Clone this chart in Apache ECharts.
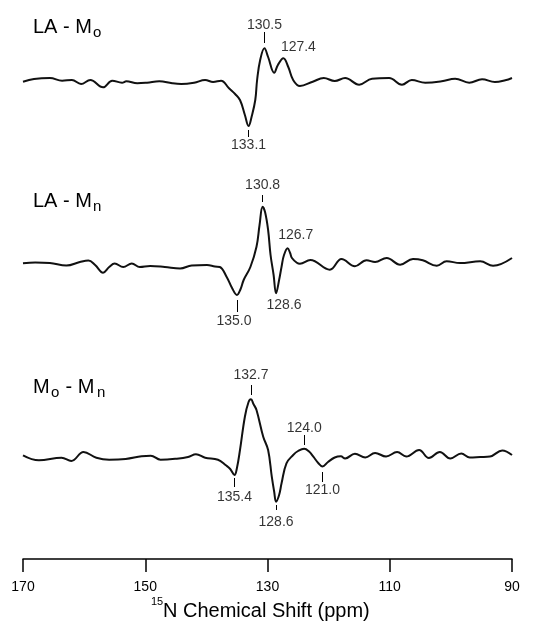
<!DOCTYPE html>
<html>
<head>
<meta charset="utf-8">
<script src="https://cdn.jsdelivr.net/npm/echarts@6/dist/echarts.min.js"></script>
<style>
html, body { margin: 0; padding: 0; background: #fff; }
#chart { width: 545px; height: 635px; }
</style>
</head>
<body>
<div id="chart"></div>
<script>
/* 15N difference spectra (intensity in arbitrary units) */
var laMoPpm = [170.0, 168.2, 165.6, 163.6, 162.0, 160.5, 159.0, 156.9, 155.4, 153.8, 153.1, 151.3, 149.7, 147.7, 145.6, 144.1, 142.0, 140.2, 138.9, 137.6,
    136.3, 135.3, 134.5, 133.7, 133.1, 132.6, 132.0, 131.7, 131.2, 130.5, 129.9, 128.9, 128.3, 127.4, 126.6, 125.8, 124.7,
    122.6, 120.8, 119.0, 117.3, 115.0, 112.9, 110.1, 108.0, 106.4, 104.2, 101.5, 99.3, 97.0, 94.9, 92.8, 91.1, 90.0];
var laMoInt = [0.3, 3, 4, 1.3, 2, -2, 2, -5.3, 1.3, -0.7, 0.7, -1.3, -0.7, 0.7, -1.3, -2, -0.7, 2, 0, 1.3,
    -6.3, -12, -18, -33, -44, -34.7, -18, 2, 22, 33.7, 25, 9.3, 17, 23.7, 15, 2, -4,
    0.3, 4, 1, 4, -2.7, 3.3, 4, -2.7, 2, -0.7, 0.7, 3.3, -0.7, 2.7, 0, 1.7, 4];

var laMnPpm = [170.0, 168.0, 165.6, 162.9, 160.7, 159.3, 158.2, 156.9, 155.9, 155.0, 153.6, 152.2, 150.9, 149.2, 146.8, 144.3, 142.4, 139.9, 138.6, 137.8,
    136.7, 135.8, 135.0, 134.4, 133.9, 132.8, 131.8, 131.3, 130.8, 130.4, 129.9, 129.5, 129.0, 128.6, 128.1, 127.7, 127.3, 126.7, 126.3, 126.0, 125.2,
    124.7, 123.0, 119.8, 117.9, 115.7, 113.8, 112.4, 110.5, 108.3, 106.2, 104.6, 102.3, 100.7, 98.5, 95.2, 93.1, 90.0];
var laMnInt = [-0.3, 0.5, 0, -2.5, 1, 2.5, -2, -9.7, -4, -0.5, -4, -0.5, -4, -3, -4, -5.5, -2.5, -2, -3.5, -4,
    -13.7, -25, -32, -26, -17, -4, 16.3, 38, 56.3, 51, 33, 8, -12, -30.3, -17, -3.7, 8, 14.7, 10, 5, 0.3,
    -0.7, 3, -6.7, 4, -3.3, 2.7, 1, 5, -1.7, 4, 2.7, -2.7, 1.7, 0, 1.7, -2.7, 5];

var moMnPpm = [170.0, 167.4, 163.7, 162.1, 160.1, 158.0, 155.9, 153.2, 150.6, 149.1, 147.5, 144.9, 143.0, 141.7, 140.2, 138.1,
    136.8, 136.1, 135.4, 135.0, 134.5, 133.7, 133.1, 132.7, 132.3, 131.8, 130.7, 129.9, 129.3, 128.9, 128.6, 128.1, 127.7, 126.9,
    125.8, 125.0, 124.0, 123.2, 122.5, 121.7, 121.0, 120.1, 119.0, 118.0, 117.3, 115.7, 114.0, 112.4, 110.6, 108.8, 107.3,
    105.2, 103.6, 101.8, 100.1, 98.3, 96.9, 95.2, 93.6, 91.6, 90.0];
var moMnInt = [1.7, -3.3, -0.7, -4, 5, -0.7, -2.7, -2, 0.7, 1.3, -2.7, -1.7, 0, 2.7, -0.7, -2.7,
    -8.3, -12, -18, -11, 7, 40.3, 55, 57.7, 53, 47, 20.3, 7, -19.7, -35, -44.7, -38, -26.3, -6.3,
    2, 6, 8.3, 5.5, 0.3, -6, -9.5, -5, -0.5, 0.7, -1.5, 3.3, -0.5, 4, 0.5, 5, 0.5,
    7, -1, 5, -1.5, 3.5, -0.5, 0, 0.5, 6.5, 2];

// labelled peaks (ppm)
var laMoPeaks = [130.5, 127.4, 133.1];
var laMnPeaks = [130.8, 126.7, 135.0, 128.6];
var moMnPeaks = [132.7, 124.0, 135.4, 121.0, 128.6];

var shiftTicks = [170, 150, 130, 110, 90];

// per peak: [tick from, tick to, label centre, label dx px]
var laMoMarks = [[39, 50, 57, 0], [null, null, 35, 15], [-48, -55, -63, 0]];
var laMnMarks = [[61, 68, 78, 0], [null, null, 28, 8], [-37, -49, -58, -3], [null, null, -42, 8]];
var moMnMarks = [[62, 72, 82, 0], [12, 22, 29, 0], [-21, -30, -40, 0], [-15, -25, -33, 0], [-48, -53, -65, 0]];

var traces = [
    {ppm: laMoPpm, val: laMoInt, peaks: laMoPeaks, marks: laMoMarks, base: 82},
    {ppm: laMnPpm, val: laMnInt, peaks: laMnPeaks, marks: laMnMarks, base: 263},
    {ppm: moMnPpm, val: moMnInt, peaks: moMnPeaks, marks: moMnMarks, base: 457}
];

var FONT = '"Liberation Sans", Arial, Helvetica, sans-serif';
var grids = [], xAxes = [], yAxes = [], series = [];

traces.forEach(function(t, i) {
    grids.push({left: 23, right: 33, top: t.base - 80, height: 150});
    yAxes.push({gridIndex: i, type: 'value', min: -70, max: 80, show: false});
    var last = (i == traces.length - 1);
    xAxes.push({
        gridIndex: i, type: 'value', min: 90, max: 170, interval: 20, inverse: true,
        show: last, offset: 32, position: 'bottom',
        axisLine: {show: true, onZero: false, lineStyle: {color: '#000', width: 1.5}},
        axisTick: {show: true, inside: false, length: 13, lineStyle: {color: '#000', width: 1.5}},
        axisLabel: {show: true, margin: 21, color: '#000', fontSize: 14, fontFamily: FONT,
            formatter: function(v) { return shiftTicks.indexOf(v) >= 0 ? String(v) : ''; }},
        splitLine: {show: false}
    });

    var pts = [];
    for (var k = 0; k < t.ppm.length; k++) pts.push([t.ppm[k], t.val[k]]);

    var ticks = [], labels = [];
    t.peaks.forEach(function(p, j) {
        var m = t.marks[j];
        if (m[0] !== null) ticks.push([{coord: [p, m[0]]}, {coord: [p, m[1]]}]);
        labels.push({name: p.toFixed(1), value: [p, m[2]], label: {offset: [m[3], 0]}});
    });

    series.push({
        type: 'line', xAxisIndex: i, yAxisIndex: i, data: pts,
        showSymbol: false, smooth: 0.4, clip: false, silent: true,
        lineStyle: {color: '#111', width: 2},
        markLine: {
            silent: true, symbol: ['none', 'none'], animation: false,
            label: {show: false},
            lineStyle: {color: '#000', width: 1, type: 'solid'},
            data: ticks
        }
    });
    series.push({
        type: 'scatter', xAxisIndex: i, yAxisIndex: i, data: labels,
        symbolSize: 0, silent: true, clip: false,
        label: {show: true, position: 'inside', formatter: '{b}', color: '#000', fontSize: 14, fontFamily: FONT}
    });
});

function txt(x, y, s, size) {
    return {type: 'text', x: x, y: y, silent: true,
        style: {text: s, fill: '#000', font: size + 'px ' + FONT, align: 'left', verticalAlign: 'middle'}};
}

var chart = echarts.init(document.getElementById('chart'));
chart.setOption({
    animation: false,
    backgroundColor: '#fff',
    grid: grids,
    xAxis: xAxes,
    yAxis: yAxes,
    series: series,
    graphic: [
        txt(33, 27, 'LA - M', 20), txt(93, 33, 'o', 15),
        txt(33, 201, 'LA - M', 20), txt(93, 207, 'n', 15),
        txt(33, 387, 'M', 20), txt(51, 393, 'o', 15), txt(60, 387, ' - M', 20), txt(97, 393, 'n', 15),
        txt(151, 602, '15', 11), txt(163, 611, 'N Chemical Shift (ppm)', 20)
    ]
});
</script>
</body>
</html>
